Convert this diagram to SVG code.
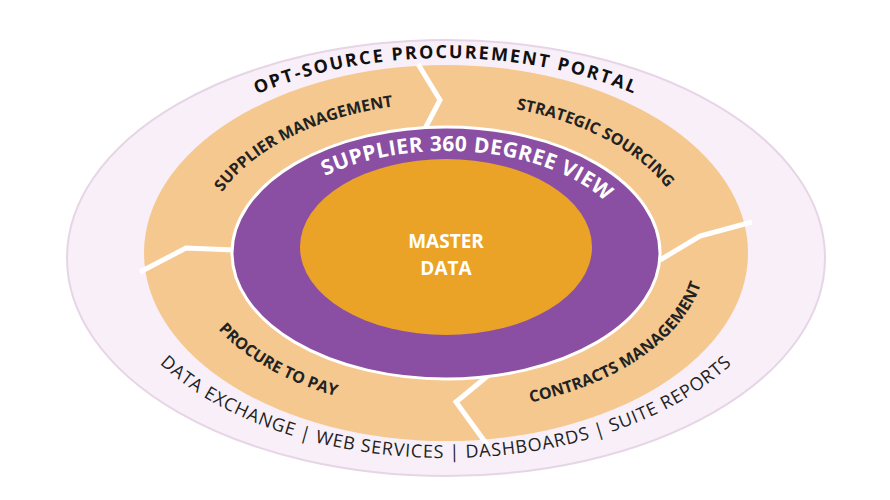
<svg xmlns="http://www.w3.org/2000/svg" width="890" height="500" viewBox="0 0 890 500">
<style>
.t{font-family:"Open Sans","Liberation Sans",sans-serif;font-weight:700}
.ring{font-size:16px;fill:#222}
.sep{fill:none;stroke:#fff;stroke-width:5;stroke-linejoin:miter}
</style>
<defs>
<path id="outTop" d="M116,258 A330,200 0 0 1 776,258"/>
<path id="outBot" d="M106,253 A340,205 0 0 0 786,253"/>
<path id="ringTop" d="M201,253 A245,150 0 0 1 691,253"/>
<path id="ringBot" d="M186,253 A260,158 0 0 0 706,253"/>
<path id="purTop" d="M260,255 A186,104 0 0 1 632,255"/>
</defs>
<rect width="890" height="500" fill="#fff"/>
<g id="outer"><ellipse cx="446" cy="258" rx="379" ry="218" fill="#f8eff8" stroke="#e6d5e6" stroke-width="2"/></g>
<g id="orange-ring">
<ellipse cx="446" cy="253" rx="302" ry="188" fill="#f5c88f"/>
<polyline class="sep" points="418,64 440,100 418,142"/>
<polyline class="sep" points="752,222 700,236 660,260"/>
<polyline class="sep" points="488,446 456,402 490,374"/>
<polyline class="sep" points="140,272 186,248 234,250"/>
</g>
<g id="purple-ring"><ellipse cx="446" cy="253" rx="214" ry="126" fill="#8a4fa2" stroke="#fff" stroke-width="3"/></g>
<g id="master"><ellipse cx="446" cy="247" rx="146" ry="88" fill="#eaa327"/>
<text class="t" x="446" y="248" font-size="19" fill="#fff" text-anchor="middle">MASTER</text>
<text class="t" x="446" y="275" font-size="19" fill="#fff" text-anchor="middle">DATA</text></g>
<g id="labels">
<text class="t" font-size="18" fill="#111" letter-spacing="2"><textPath href="#outTop" startOffset="50%" text-anchor="middle">OPT-SOURCE  PROCUREMENT PORTAL</textPath></text>
<text font-family="Open Sans,Liberation Sans,sans-serif" font-size="18" fill="#222" letter-spacing="0.8"><textPath href="#outBot" startOffset="50%" text-anchor="middle">DATA EXCHANGE  |  WEB SERVICES  |  DASHBOARDS  | SUITE REPORTS</textPath></text>
<text class="t ring"><textPath href="#ringTop" startOffset="26%" text-anchor="middle">SUPPLIER MANAGEMENT</textPath></text>
<text class="t ring"><textPath href="#ringTop" startOffset="75%" text-anchor="middle">STRATEGIC SOURCING</textPath></text>
<text class="t ring"><textPath href="#ringBot" startOffset="23%" text-anchor="middle">PROCURE TO PAY</textPath></text>
<text class="t ring"><textPath href="#ringBot" startOffset="79%" text-anchor="middle">CONTRACTS MANAGEMENT</textPath></text>
<text class="t" font-size="21" fill="#fff" letter-spacing="0.5"><textPath href="#purTop" startOffset="55%" text-anchor="middle">SUPPLIER 360 DEGREE VIEW</textPath></text>
</g>
</svg>
